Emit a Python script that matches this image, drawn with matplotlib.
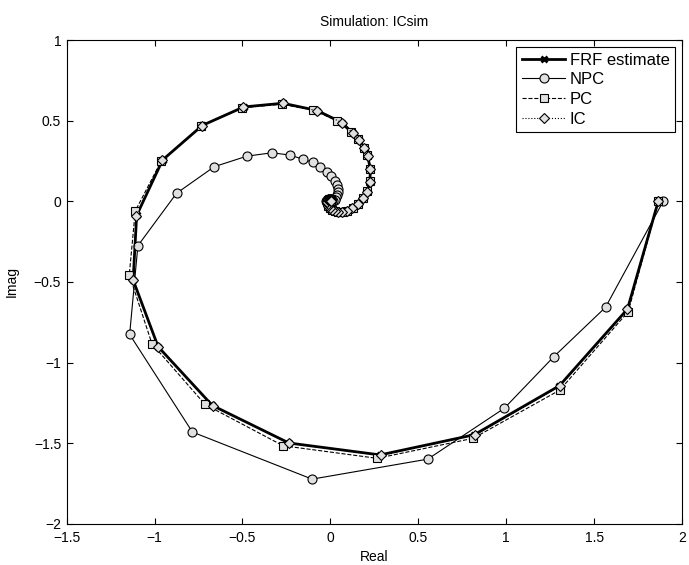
import numpy as np
import matplotlib
matplotlib.use("Agg")
import matplotlib.pyplot as plt
from matplotlib.ticker import FuncFormatter

plt.rcParams['font.family'] = ['Liberation Sans', 'DejaVu Sans']

# values (real, imag)
ic_re = [1.863, 1.689, 1.305, 0.820, 0.286, -0.233, -0.670, -0.979, -1.123, -1.104,
         -0.956, -0.730, -0.495, -0.271, -0.076, 0.067, 0.129, 0.161, 0.194, 0.212,
         0.228, 0.224, 0.209, 0.186, 0.155, 0.123, 0.095, 0.068, 0.044, 0.024,
         0.008, -0.004, -0.012, -0.016, -0.017, -0.015, -0.011, -0.006, -0.001, 0.003,
         0.005, 0.006, 0.005, 0.003, 0.001]
ic_im = [0.000, -0.670, -1.145, -1.449, -1.573, -1.500, -1.267, -0.903, -0.490, -0.089,
         0.256, 0.470, 0.584, 0.607, 0.562, 0.487, 0.421, 0.380, 0.328, 0.281,
         0.198, 0.122, 0.060, 0.018, -0.017, -0.043, -0.060, -0.068, -0.068, -0.062,
         -0.052, -0.040, -0.027, -0.014, -0.003, 0.006, 0.012, 0.015, 0.015, 0.013,
         0.010, 0.007, 0.004, 0.002, 0.001]

frf_re = [1.865, 1.690, 1.303, 0.818, 0.283, -0.236, -0.672, -0.980, -1.122, -1.102,
          -0.954, -0.728, -0.493, -0.270, -0.076, 0.066, 0.129, 0.161, 0.194, 0.212,
          0.228, 0.224, 0.209, 0.186, 0.155, 0.123, 0.095, 0.068, 0.044, 0.024,
          0.008, -0.004, -0.012, -0.016, -0.017, -0.015, -0.011, -0.006, -0.001, 0.003,
          0.005, 0.006, 0.005, 0.003, 0.001]
frf_im = [0.000, -0.668, -1.143, -1.447, -1.572, -1.498, -1.265, -0.901, -0.488, -0.087,
          0.257, 0.471, 0.585, 0.608, 0.563, 0.488, 0.421, 0.380, 0.328, 0.281,
          0.198, 0.122, 0.060, 0.018, -0.017, -0.043, -0.060, -0.068, -0.068, -0.062,
          -0.052, -0.040, -0.027, -0.014, -0.003, 0.006, 0.012, 0.015, 0.015, 0.013,
          0.010, 0.007, 0.004, 0.002, 0.001]

pc_re = [1.866, 1.694, 1.305, 0.812, 0.266, -0.269, -0.713, -1.015, -1.144, -1.110,
         -0.962, -0.736, -0.500, -0.278, -0.099, 0.038, 0.118, 0.155, 0.190, 0.210,
         0.227, 0.224, 0.210, 0.188, 0.158, 0.126, 0.097, 0.070, 0.046, 0.026,
         0.010, -0.003, -0.011, -0.015, -0.016, -0.015, -0.011, -0.006, -0.001, 0.003,
         0.005, 0.006, 0.005, 0.003, 0.001]
pc_im = [0.000, -0.684, -1.170, -1.469, -1.593, -1.515, -1.259, -0.883, -0.455, -0.060,
         0.250, 0.465, 0.580, 0.602, 0.566, 0.500, 0.428, 0.385, 0.333, 0.285,
         0.203, 0.126, 0.063, 0.020, -0.015, -0.041, -0.058, -0.067, -0.068, -0.062,
         -0.052, -0.040, -0.028, -0.015, -0.004, 0.005, 0.011, 0.014, 0.014, 0.012,
         0.010, 0.007, 0.004, 0.002, 0.001]

npc_re = [1.893, 1.565, 1.271, 0.989, 0.554, -0.104, -0.785, -1.142, -1.095, -0.875,
          -0.660, -0.475, -0.332, -0.232, -0.158, -0.101, -0.057, -0.019, 0.006, 0.024,
          0.035, 0.041, 0.043, 0.040, 0.034, 0.026, 0.016, 0.006, -0.004, -0.012,
          -0.018, -0.022, -0.023, -0.021, -0.017, -0.012, -0.007]
npc_im = [0.000, -0.657, -0.963, -1.283, -1.598, -1.722, -1.430, -0.825, -0.275, 0.050,
          0.215, 0.280, 0.301, 0.287, 0.262, 0.241, 0.214, 0.184, 0.155, 0.128,
          0.102, 0.079, 0.058, 0.040, 0.024, 0.011, 0.001, -0.006, -0.010, -0.012,
          -0.010, -0.006, -0.001, 0.004, 0.007, 0.009, 0.009]

fig = plt.figure(figsize=(6.89, 5.65), dpi=100)
ax = fig.add_axes([0.0968, 0.0726, 0.8930, 0.8566])

gray = '0.88'
ax.plot(frf_re, frf_im, '-', color='k', lw=2.0, marker='x', ms=4, mew=2, label='FRF estimate')
ax.plot(npc_re, npc_im, '-', color='k', lw=0.8, marker='o', ms=6.5, mfc=gray, mec='k', mew=0.8, label='NPC')
ax.plot(pc_re, pc_im, '--', color='k', lw=0.8, marker='s', ms=6, mfc=gray, mec='k', mew=0.8, label='PC')
ax.plot(ic_re, ic_im, ':', color='k', lw=0.8, marker='D', ms=5.5, mfc=gray, mec='k', mew=0.8, label='IC')

ax.set_xlim(-1.5, 2)
ax.set_ylim(-2, 1)
ax.set_xticks(np.arange(-1.5, 2.01, 0.5))
ax.set_yticks(np.arange(-2, 1.01, 0.5))
fmt = FuncFormatter(lambda v, p: f'{v:g}'.replace('-', '\u2212'))
ax.xaxis.set_major_formatter(fmt)
ax.yaxis.set_major_formatter(fmt)
ax.tick_params(direction='in', length=4, width=0.8, top=True, right=True, labelsize=10, pad=4)
ax.tick_params(axis='x', pad=5)
for s in ax.spines.values():
    s.set_linewidth(0.8)

ax.set_title('Simulation: ICsim', fontsize=10, pad=10)
ax.set_xlabel('Real', fontsize=10, labelpad=4)
ax.set_ylabel('Imag', fontsize=10, labelpad=11)

leg = ax.legend(loc='upper right', fontsize=12, frameon=True, fancybox=False,
                edgecolor='k', framealpha=1, handlelength=2.6, borderaxespad=0.4,
                labelspacing=0.28, handletextpad=0.25, borderpad=0.35)
leg.get_frame().set_linewidth(0.8)

fig.savefig('out.png', dpi=100)
